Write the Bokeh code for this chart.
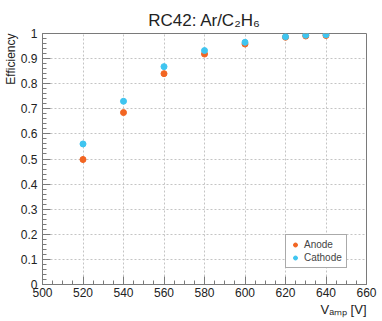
from bokeh.plotting import figure
from bokeh.models import (Range1d, FixedTicker, Legend, LegendItem, Title,
                          ColumnDataSource, Whisker)
from bokeh.embed import file_html
from bokeh.resources import INLINE

# ---- data ----
voltage = [520, 540, 560, 580, 600, 620, 630, 640]
anode = [0.498, 0.685, 0.840, 0.918, 0.958, 0.985, 0.990, 0.992]
anode_err = [0.012, 0.008, 0.006, 0.005, 0.004, 0.003, 0.003, 0.003]
cathode = [0.560, 0.730, 0.868, 0.932, 0.965, 0.987, 0.993, 0.995]
cathode_err = [0.012, 0.008, 0.006, 0.005, 0.004, 0.003, 0.003, 0.003]

x_ticks = [500, 520, 540, 560, 580, 600, 620, 640, 660]
x_minor = list(range(500, 661, 5))
y_ticks = [0, 0.1, 0.2, 0.3, 0.4, 0.5, 0.6, 0.7, 0.8, 0.9, 1.0]
y_tick_labels = ["0", "0.1", "0.2", "0.3", "0.4", "0.5", "0.6", "0.7", "0.8", "0.9", "1"]
y_minor = [round(i * 0.02, 2) for i in range(51)]

title_text = "RC42: Ar/C\u2082H\u2086"
x_title = "V\u2090\u2098\u209a [V]"
y_title = "Efficiency"

FONT = "Liberation Sans"
ANODE_C = "#f26522"
CATHODE_C = "#3fc5f0"
FRAME_C = "#7a7a7a"
TEXT_C = "#222222"

p = figure(width=382, height=321, output_backend="svg", toolbar_location=None,
           x_range=Range1d(500, 660), y_range=Range1d(0, 1),
           min_border_left=42, min_border_right=16, min_border_top=33,
           min_border_bottom=37)
p.outline_line_color = FRAME_C
p.outline_line_width = 1

p.title.text = title_text
p.title.align = "center"
p.title.text_font = FONT
p.title.text_font_size = "17px"
p.title.text_font_style = "normal"
p.title.text_color = TEXT_C
p.title.standoff = 8

for ax in (p.xaxis[0], p.yaxis[0]):
    ax.axis_line_color = FRAME_C
    ax.major_tick_line_color = FRAME_C
    ax.minor_tick_line_color = FRAME_C
    ax.major_tick_out = 0
    ax.major_tick_in = 8
    ax.minor_tick_out = 0
    ax.minor_tick_in = 4
    ax.major_label_text_font = FONT
    ax.major_label_text_font_size = "12px"
    ax.major_label_text_color = TEXT_C

p.xaxis.ticker = FixedTicker(ticks=x_ticks, minor_ticks=x_minor)
p.xaxis.major_label_standoff = 3
p.yaxis.ticker = FixedTicker(ticks=y_ticks, minor_ticks=y_minor)
p.yaxis.major_label_overrides = {t: l for t, l in zip(y_ticks, y_tick_labels)}
p.yaxis.major_label_standoff = 5

for g in (p.xgrid[0], p.ygrid[0]):
    g.grid_line_color = "#c4c4c4"
    g.grid_line_dash = "2 2"
    g.grid_line_width = 1

src_a = ColumnDataSource(dict(x=voltage, y=anode,
                              lo=[v - e for v, e in zip(anode, anode_err)],
                              hi=[v + e for v, e in zip(anode, anode_err)]))
src_c = ColumnDataSource(dict(x=voltage, y=cathode,
                              lo=[v - e for v, e in zip(cathode, cathode_err)],
                              hi=[v + e for v, e in zip(cathode, cathode_err)]))

for src, col in ((src_a, ANODE_C), (src_c, CATHODE_C)):
    w = Whisker(source=src, base="x", lower="lo", upper="hi",
                line_color=col, line_width=1.5)
    w.upper_head = None
    w.lower_head = None
    p.add_layout(w)

ra = p.scatter("x", "y", source=src_a, size=6, color=ANODE_C)
rc = p.scatter("x", "y", source=src_c, size=6, color=CATHODE_C)

legend = Legend(items=[LegendItem(label="Anode", renderers=[ra]),
                       LegendItem(label="Cathode", renderers=[rc])],
                location=(243, 16), label_text_font=FONT,
                label_text_font_size="10px", label_height=11,
                glyph_width=10, glyph_height=11, label_standoff=4,
                padding=4, spacing=2, margin=0,
                border_line_color="#555555", border_line_width=1,
                background_fill_alpha=1)
p.add_layout(legend)

p.add_layout(Title(text=y_title, align="right", text_font=FONT,
                   text_font_size="12px", text_font_style="normal",
                   text_color=TEXT_C, standoff=0), "left")
p.add_layout(Title(text=x_title, align="right", text_font=FONT,
                   text_font_size="13px", text_font_style="normal",
                   text_color=TEXT_C, standoff=0), "below")

open("out.html", "w").write(file_html(p, INLINE))
